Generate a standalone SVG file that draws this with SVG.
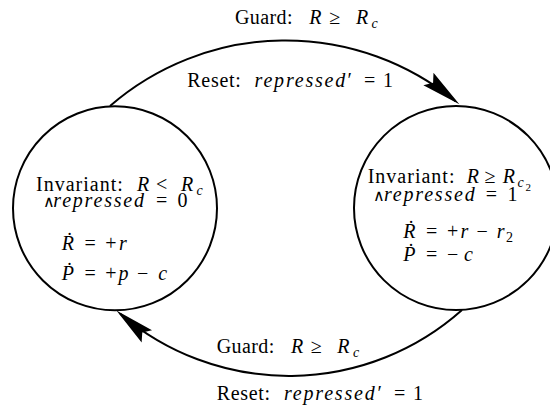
<svg xmlns="http://www.w3.org/2000/svg" width="550" height="406" viewBox="0 0 550 406">
<style>
.t{font-family:"Liberation Serif","Times New Roman",serif;font-size:20px;fill:#000}
.i{font-style:italic}
.s{font-size:14px}
.ss{font-size:11px}
.w{font-size:16px}
.node{fill:none;stroke:#000;stroke-width:2}
.edge{fill:none;stroke:#000;stroke-width:2}
</style>
<defs>
<marker id="arr" markerUnits="userSpaceOnUse" viewBox="-40 -10 50 20" markerWidth="50" markerHeight="20" refX="0" refY="0" orient="auto">
<path d="M5,0 L-35,-8 L-29,0 L-35,8 Z" fill="#000"/>
</marker>
</defs>
<rect width="550" height="406" fill="#fff"/>
<g id="connectors">
<path class="edge" d="M110,106 A268,268 0 0 1 455.5,101.2" marker-end="url(#arr)"/>
<path class="edge" d="M462,310 A260,260 0 0 1 120.2,313.7" marker-end="url(#arr)"/>
</g>
<g id="state-left">
<circle class="node" cx="115" cy="208.3" r="102"/>
<text class="t" y="191"><tspan x="36" letter-spacing="1">Invariant: </tspan><tspan class="i" x="137">R </tspan><tspan x="156.1">&lt; </tspan><tspan class="i" x="181">R</tspan><tspan class="i s" x="196.5" y="195">c </tspan><tspan class="w" x="43" y="207">∧</tspan><tspan class="i" x="53.3" y="207" letter-spacing="1.8">repressed </tspan><tspan x="155.9">= </tspan><tspan x="177.5">0</tspan></text>
<text class="t" y="250"><tspan class="i" x="61.7">Ṙ </tspan><tspan x="84.4">= </tspan><tspan x="105.2">+</tspan><tspan class="i" x="119">r </tspan><tspan class="i" x="61.7" y="280">Ṗ </tspan><tspan x="84.4">= </tspan><tspan x="105.2">+</tspan><tspan class="i" x="118.5">p </tspan><tspan x="136.9">− </tspan><tspan class="i" x="158.3">c</tspan></text>
</g>
<g id="state-right">
<circle class="node" cx="456" cy="208" r="102"/>
<text class="t" y="183.3"><tspan x="367.7" letter-spacing="1">Invariant: </tspan><tspan class="i" x="466.7">R </tspan><tspan x="484.5">≥ </tspan><tspan class="i" x="502.7">R</tspan><tspan class="i s" x="517.5" y="187.3">c</tspan><tspan class="ss" x="525.5" y="190.5">2 </tspan><tspan class="w" x="373.3" y="200.7">∧</tspan><tspan class="i" x="384" y="200.7" letter-spacing="1.8">repressed </tspan><tspan x="485.7">= </tspan><tspan x="507.5">1</tspan></text>
<text class="t" y="238.3"><tspan class="i" x="403.3">Ṙ </tspan><tspan x="426">= </tspan><tspan x="446.9">+</tspan><tspan class="i" x="460.5">r </tspan><tspan x="476.4">− </tspan><tspan class="i" x="496.7">r</tspan><tspan class="s" x="506" y="242.3">2 </tspan><tspan class="i" x="403.3" y="261">Ṗ </tspan><tspan x="426">= </tspan><tspan x="446.9">−</tspan><tspan class="i" x="464">c</tspan></text>
</g>
<g id="edge-labels">
<text class="t" y="24"><tspan x="235" letter-spacing="0.4">Guard: </tspan><tspan class="i" x="309.3">R </tspan><tspan x="329.2">≥ </tspan><tspan class="i" x="356">R</tspan><tspan class="i s" x="371.5" y="28">c</tspan></text>
<text class="t" y="87.3"><tspan x="187.3" letter-spacing="0.7">Reset: </tspan><tspan class="i" x="254.6" letter-spacing="1.8">repressed</tspan><tspan x="347.5">′ </tspan><tspan x="363.9">= </tspan><tspan x="382.9">1</tspan></text>
<text class="t" y="353.3"><tspan x="216.7" letter-spacing="0.4">Guard: </tspan><tspan class="i" x="291">R </tspan><tspan x="310.7">≥ </tspan><tspan class="i" x="337.3">R</tspan><tspan class="i s" x="353" y="357.3">c</tspan></text>
<text class="t" y="399.5"><tspan x="216.7" letter-spacing="0.7">Reset: </tspan><tspan class="i" x="284" letter-spacing="1.8">repressed</tspan><tspan x="377.5">′ </tspan><tspan x="393.9">= </tspan><tspan x="412.9">1</tspan></text>
</g>
</svg>
